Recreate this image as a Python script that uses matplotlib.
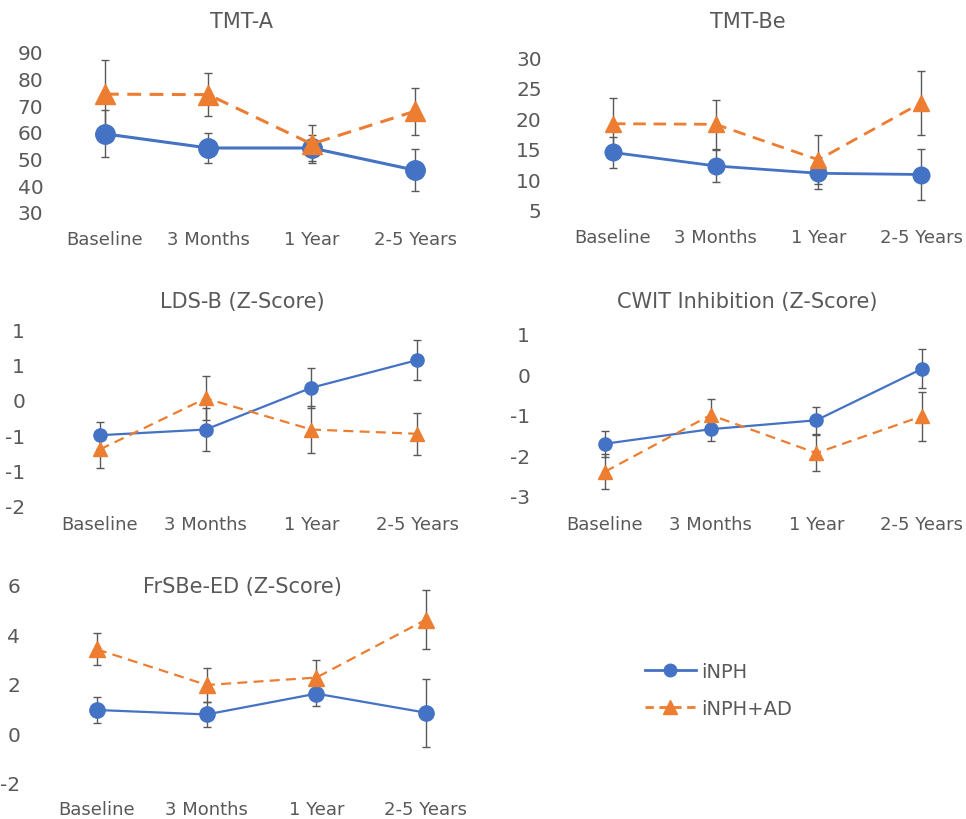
import matplotlib
matplotlib.use("Agg")
import matplotlib.pyplot as plt
import numpy as np
from matplotlib.lines import Line2D

plt.rcParams['font.family'] = ['DejaVu Sans']
plt.rcParams['axes.unicode_minus'] = False

# Data
categories = ["Baseline", "3 Months", "1 Year", "2-5 Years"]

tmt_a_inph = [59.3, 54.0, 54.0, 45.7]
tmt_a_inph_err = [8.8, 5.8, 5.0, 8.0]
tmt_a_ad = [74.2, 74.0, 55.5, 67.8]
tmt_a_ad_err = [12.7, 8.0, 7.0, 8.8]

tmt_be_inph = [14.4, 12.2, 11.0, 10.8]
tmt_be_inph_err = [2.5, 2.6, 2.6, 4.2]
tmt_be_ad = [19.1, 19.0, 13.2, 22.5]
tmt_be_ad_err = [4.2, 4.0, 4.0, 5.2]

lds_inph = [-0.50, -0.42, 0.17, 0.56]
lds_inph_err = [0.19, 0.30, 0.28, 0.28]
lds_ad = [-0.70, 0.02, -0.42, -0.48]
lds_ad_err = [0.27, 0.31, 0.33, 0.30]

cwit_inph = [-1.71, -1.35, -1.13, 0.14]
cwit_inph_err = [0.32, 0.30, 0.33, 0.48]
cwit_ad = [-2.40, -1.00, -1.94, -1.03]
cwit_ad_err = [0.43, 0.40, 0.45, 0.60]

frsbe_inph = [0.95, 0.77, 1.61, 0.84]
frsbe_inph_err = [0.52, 0.50, 0.50, 1.37]
frsbe_ad = [3.40, 1.96, 2.26, 4.60]
frsbe_ad_err = [0.65, 0.68, 0.70, 1.20]

BLUE = '#4472C4'
ORANGE = '#ED7D31'
GRAY = '#595959'
W, H = 966, 820

fig = plt.figure(figsize=(W / 100, H / 100), dpi=100)


def excel_round(v, pos=None):
    return str(int(np.sign(v) * np.floor(abs(v) + 0.5)))


def panel(title, title_xy, x0, x3, y_top, y_bot, yticks, inph, inph_err, ad, ad_err,
          ms, lw, xpad, ypad, fmt=None):
    step = (x3 - x0) / 3
    left = x0 - step / 2
    right = x3 + step / 2
    ax = fig.add_axes([left / W, 1 - y_bot / H, (right - left) / W, (y_bot - y_top) / H])
    x = np.arange(len(categories))
    ax.errorbar(x, inph, yerr=inph_err, fmt='none', ecolor=GRAY, elinewidth=1,
                capsize=2.8, capthick=1, zorder=2)
    ax.errorbar(x, ad, yerr=ad_err, fmt='none', ecolor=GRAY, elinewidth=1,
                capsize=2.8, capthick=1, zorder=2)
    ax.plot(x, inph, color=BLUE, marker='o', ms=ms, lw=lw, zorder=3, clip_on=False)
    ax.plot(x, ad, color=ORANGE, marker='^', ms=ms, lw=lw, dashes=(4.5, 2.8),
            zorder=4, clip_on=False)
    ax.set_xlim(-0.5, 3.5)
    ax.set_ylim(yticks[0], yticks[-1])
    ax.set_yticks(yticks)
    if fmt is not None:
        ax.yaxis.set_major_formatter(plt.FuncFormatter(fmt))
    ax.set_xticks(x)
    ax.set_xticklabels(categories)
    ax.tick_params(axis='x', length=0, pad=xpad * 0.72, labelsize=13, labelcolor=GRAY)
    ax.tick_params(axis='y', length=0, pad=ypad * 0.72, labelsize=14.5, labelcolor=GRAY)
    for s in ax.spines.values():
        s.set_visible(False)
    ax.patch.set_alpha(0)
    fig.text(title_xy[0] / W, 1 - title_xy[1] / H, title, ha='center', va='center',
             fontsize=15, color=GRAY)
    return ax


panel("TMT-A", (242, 22), 105, 415, 53, 213, [30, 40, 50, 60, 70, 80, 90],
      tmt_a_inph, tmt_a_inph_err, tmt_a_ad, tmt_a_ad_err, 14, 2.2, 18, 10)
panel("TMT-Be", (748, 22), 613, 921, 58, 211, [5, 10, 15, 20, 25, 30],
      tmt_be_inph, tmt_be_inph_err, tmt_be_ad, tmt_be_ad_err, 12, 2.0, 18, 20)
panel("LDS-B (Z-Score)", (242, 302), 100, 417, 330, 507, [-1.5, -1.0, -0.5, 0.0, 0.5, 1.0],
      lds_inph, lds_inph_err, lds_ad, lds_ad_err, 9.5, 1.6, 9, 22, fmt=excel_round)
panel("CWIT Inhibition (Z-Score)", (747, 302), 605, 922, 335, 497, [-3, -2, -1, 0, 1],
      cwit_inph, cwit_inph_err, cwit_ad, cwit_ad_err, 9.5, 1.6, 19, 22)
panel("FrSBe-ED (Z-Score)", (242, 587), 97, 426, 586, 784, [-2, 0, 2, 4, 6],
      frsbe_inph, frsbe_inph_err, frsbe_ad, frsbe_ad_err, 11, 1.6, 17, 22)

handles = [
    Line2D([], [], color=BLUE, marker='o', ms=9, lw=2),
    Line2D([], [], color=ORANGE, marker='^', ms=10, lw=2, dashes=(3, 2)),
]
fig.legend(handles, ["iNPH", "iNPH+AD"], loc='center left',
           bbox_to_anchor=(645 / W, 1 - 691 / H), frameon=False, fontsize=14,
           handlelength=2.6, handletextpad=0.3, labelspacing=0.95,
           borderpad=0, borderaxespad=0, labelcolor=GRAY)

fig.savefig("out.png", dpi=100)
